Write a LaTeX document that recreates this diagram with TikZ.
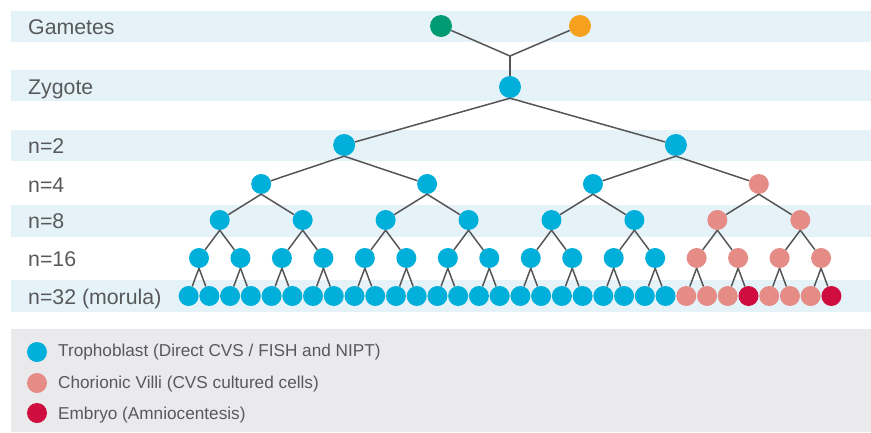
\documentclass[tikz,border=0pt]{standalone}
\usepackage{fontspec}
\setmainfont{Liberation Sans}
\definecolor{cblue}{HTML}{00AFDA}
\definecolor{cpink}{HTML}{E68C86}
\definecolor{cred}{HTML}{CF0D3F}
\definecolor{cgreen}{HTML}{009A73}
\definecolor{corange}{HTML}{F5A11E}
\definecolor{bandc}{HTML}{E5F3F9}
\definecolor{legc}{HTML}{EAEAEC}
\definecolor{linec}{HTML}{555555}
\definecolor{txtc}{HTML}{58595B}
\tikzset{
  cell/.style={circle,inner sep=0pt,minimum size=20pt,draw=none},
  bigcell/.style={cell,minimum size=22pt},
  link/.style={draw=linec,line width=1.5pt},
  rowlabel/.style={anchor=base west,inner sep=0pt,text=txtc,font=\fontsize{21.3}{25}\selectfont},
  legtext/.style={anchor=base west,inner sep=0pt,text=txtc,font=\fontsize{17.2}{20}\selectfont},
}
\begin{document}
\begin{tikzpicture}[x=1pt,y=-1pt]
\useasboundingbox (0,0) rectangle (871,432);
% bands
\fill[bandc] (11,11) rectangle (871,42);
\fill[bandc] (11,70) rectangle (871,101);
\fill[bandc] (11,130) rectangle (871,161);
\fill[bandc] (11,205) rectangle (871,237);
\fill[bandc] (11,280) rectangle (871,312);
\fill[legc] (11,329) rectangle (871,432);
% row labels
\node[rowlabel] (lg) at (28,34) {Gametes};
\node[rowlabel] (lz) at (28,94.5) {Zygote};
\node[rowlabel] (l2) at (28,153) {n=2};
\node[rowlabel] (l4) at (28,192) {n=4};
\node[rowlabel] (l8) at (28,228) {n=8};
\node[rowlabel] (l16) at (28,266) {n=16};
\node[rowlabel] (l32) at (28,304) {n=32 (morula)};
% gametes and zygote
\node[bigcell,fill=cgreen] (g1) at (441,26) {};
\node[bigcell,fill=corange] (g2) at (580,26) {};
\coordinate (j) at (510,56);
\node[bigcell,fill=cblue] (zy) at (510,87) {};
\draw[link] (g1) -- (j);
\draw[link] (g2) -- (j);
\draw[link] (j) -- (zy);
% n=2
\foreach \i in {0,1} {
  \pgfmathsetmacro\xx{199+41.47*(8*\i+3.5)}
  \node[bigcell,fill=cblue] (a\i) at (\xx,145) {};
  \draw[link] (zy.south) -- (a\i);
}
% n=4
\foreach \i in {0,...,3} {
  \pgfmathsetmacro\xx{199+41.47*(4*\i+1.5)}
  \pgfmathtruncatemacro\p{int(\i/2)}
  \ifnum\i=3 \def\cc{cpink}\else\def\cc{cblue}\fi
  \node[cell,fill=\cc] (b\i) at (\xx,184) {};
  \draw[link] (a\p.south) -- (b\i);
}
% n=8
\foreach \i in {0,...,7} {
  \pgfmathsetmacro\xx{199+41.47*(2*\i+0.5)}
  \pgfmathtruncatemacro\p{int(\i/2)}
  \ifnum\i>5 \def\cc{cpink}\else\def\cc{cblue}\fi
  \node[cell,fill=\cc] (c\i) at (\xx,220) {};
  \draw[link] (b\p.south) -- (c\i);
}
% n=16
\foreach \i in {0,...,15} {
  \pgfmathsetmacro\xx{199+41.47*\i}
  \pgfmathtruncatemacro\p{int(\i/2)}
  \ifnum\i>11 \def\cc{cpink}\else\def\cc{cblue}\fi
  \node[cell,fill=\cc] (d\i) at (\xx,258) {};
  \draw[link] (c\p.south) -- (d\i);
}
% n=32
\foreach \i in {0,...,31} {
  \pgfmathsetmacro\xx{199+41.47*(\i/2-0.25)}
  \pgfmathtruncatemacro\p{int(\i/2)}
  \def\cc{cblue}
  \ifnum\i>23 \def\cc{cpink}\fi
  \ifnum\i=27 \def\cc{cred}\fi
  \ifnum\i=31 \def\cc{cred}\fi
  \node[cell,fill=\cc] (e\i) at (\xx,296) {};
  \draw[link] (d\p.south) -- (e\i);
}
% legend
\node[cell,fill=cblue] (k1) at (37,352) {};
\node[cell,fill=cpink] (k2) at (37,383) {};
\node[cell,fill=cred] (k3) at (37,413) {};
\node[legtext] (t1) at (58,356.5) {Trophoblast (Direct CVS / FISH and NIPT)};
\node[legtext] (t2) at (58,388) {Chorionic Villi (CVS cultured cells)};
\node[legtext] (t3) at (58,419) {Embryo (Amniocentesis)};
\end{tikzpicture}
\end{document}
